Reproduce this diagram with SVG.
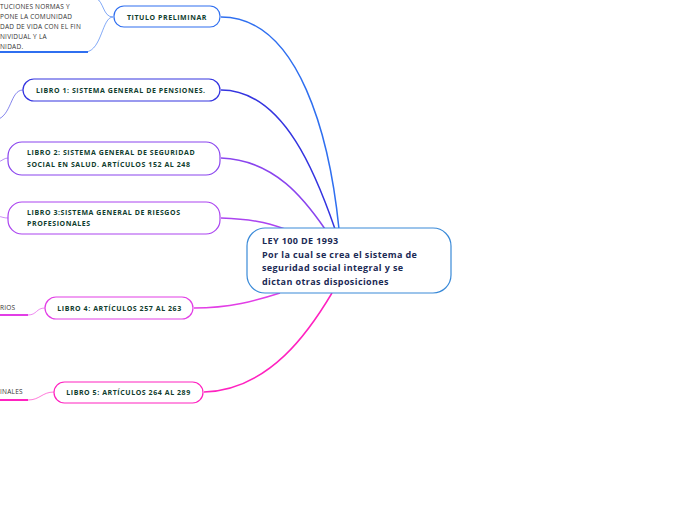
<svg xmlns="http://www.w3.org/2000/svg" width="696" height="520" viewBox="0 0 696 520">
<style>
.node{fill:#fff;stroke-width:1.2}
.lbl{font-family:"Open Sans","Noto Sans","Liberation Sans",sans-serif;font-weight:bold;font-size:7px;letter-spacing:0.57px;fill:#0f3d2e}
.ctr{font-family:"Open Sans","Noto Sans","Liberation Sans",sans-serif;font-weight:bold;font-size:9px;letter-spacing:0.4px;fill:#1b2a55}
.sub{font-family:"Open Sans","Noto Sans","Liberation Sans",sans-serif;font-size:6.5px;letter-spacing:0.23px;fill:#333}
.con{fill:none;stroke-width:1.5}
.thin{fill:none;stroke-width:1;opacity:0.6}
.ul{fill:none;stroke-width:2}
</style>
<rect width="696" height="520" fill="#fff"/>
<g id="connectors">
<path class="con" stroke="#2f6ff0" d="M221,17 C300,17 330,140 339,229"/>
<path class="con" stroke="#3434e0" d="M221,90 C285,90 318,180 335,229"/>
<path class="con" stroke="#8a44ee" d="M221,158 C275,160 305,200 325,229"/>
<path class="con" stroke="#ab44f0" d="M221,218 C250,219 265,222 285,229"/>
<path class="con" stroke="#e23ee6" d="M194,308 C230,308 255,301 280,293"/>
<path class="con" stroke="#ff22c0" d="M204,392 C270,390 310,330 332,293"/>
<path class="thin" stroke="#2f6ff0" d="M113,17 C102,17 102,50 86,52"/>
<path class="thin" stroke="#2f6ff0" d="M113,17 C103,17 104,2 96,-2"/>
<path class="ul" stroke="#2f6ff0" d="M0,52 L88,52"/>
<path class="thin" stroke="#3434e0" d="M23,90 C10,90 12,116 -4,120"/>
<path class="thin" stroke="#8a44ee" d="M8,158 C4,158 2,161 -2,162"/>
<path class="thin" stroke="#ab44f0" d="M8,218 C4,218 2,217 -2,216"/>
<path class="ul" stroke="#e23ee6" d="M0,315 L28,315"/>
<path class="thin" stroke="#e23ee6" d="M28,315 C37,315 36,308 45,308"/>
<path class="ul" stroke="#ff22c0" d="M0,400 L28,400"/>
<path class="thin" stroke="#ff22c0" d="M28,400 C40,400 42,392 54,392"/>
</g>
<g id="central">
<rect class="node" x="247" y="228" width="204" height="65" rx="18" stroke="#3a8ad8"/>
<text class="ctr" x="262" y="244">LEY 100 DE 1993</text>
<text class="ctr" x="262" y="257.5">Por la cual se crea el sistema de</text>
<text class="ctr" x="262" y="271">seguridad social integral y se</text>
<text class="ctr" x="262" y="285">dictan otras disposiciones</text>
</g>
<g id="titulo">
<rect class="node" x="114" y="6" width="106" height="21" rx="10" stroke="#2f6ff0"/>
<text class="lbl" x="167" y="19.5" text-anchor="middle">TITULO PRELIMINAR</text>
</g>
<g id="titulo-sub">
<text class="sub" x="0" y="8.5">TUCIONES NORMAS Y</text>
<text class="sub" x="0" y="18.5">PONE LA COMUNIDAD</text>
<text class="sub" x="0" y="29">DAD DE VIDA CON EL FIN</text>
<text class="sub" x="0" y="39">NIVIDUAL Y LA</text>
<text class="sub" x="0" y="48.5">NIDAD.</text>
</g>
<g id="libro1">
<rect class="node" x="23" y="79" width="197" height="22" rx="11" stroke="#3434e0"/>
<text class="lbl" x="36" y="92.5">LIBRO 1: SISTEMA GENERAL DE PENSIONES.</text>
</g>
<g id="libro2">
<rect class="node" x="8" y="142" width="212" height="33" rx="14" stroke="#8a44ee"/>
<text class="lbl" x="27" y="154.5">LIBRO 2: SISTEMA GENERAL DE SEGURIDAD</text>
<text class="lbl" x="27" y="166.5">SOCIAL EN SALUD. ARTÍCULOS 152 AL 248</text>
</g>
<g id="libro3">
<rect class="node" x="8" y="202" width="212" height="32" rx="14" stroke="#ab44f0"/>
<text class="lbl" x="27" y="214.5">LIBRO 3:SISTEMA GENERAL DE RIESGOS</text>
<text class="lbl" x="27" y="226">PROFESIONALES</text>
</g>
<g id="libro4">
<rect class="node" x="45" y="297" width="148" height="22" rx="11" stroke="#e23ee6"/>
<text class="lbl" x="119.5" y="310.5" text-anchor="middle">LIBRO 4: ARTÍCULOS 257 AL 263</text>
<text class="sub" x="0" y="310">RIOS</text>
</g>
<g id="libro5">
<rect class="node" x="54" y="382" width="149" height="21" rx="10.5" stroke="#ff22c0"/>
<text class="lbl" x="128.5" y="394.5" text-anchor="middle">LIBRO 5: ARTÍCULOS 264 AL 289</text>
<text class="sub" x="0" y="394">INALES</text>
</g>
</svg>
